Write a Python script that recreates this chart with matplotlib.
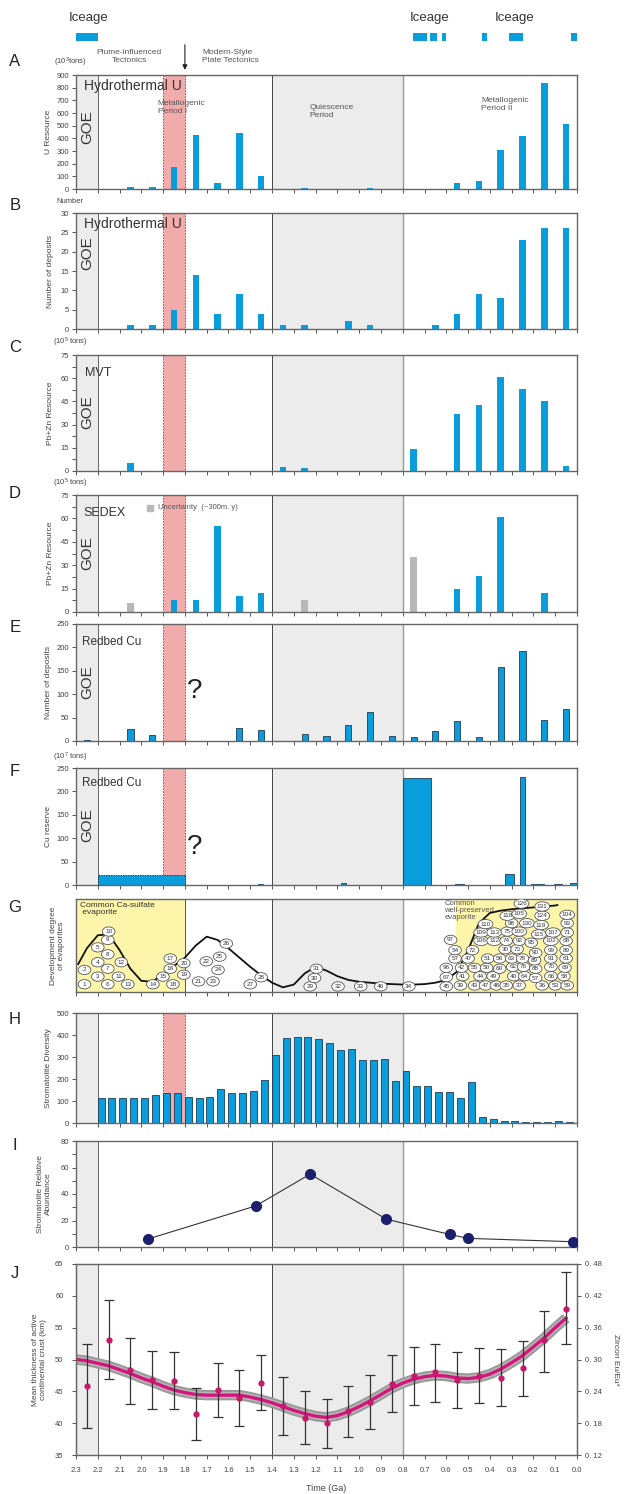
import numpy as np
import matplotlib.pyplot as plt
from matplotlib.patches import Ellipse

plt.rcParams['font.family'] = ['Liberation Sans', 'DejaVu Sans']
plt.rcParams['mathtext.default'] = 'regular'

# ---------------- data ----------------
ice_start = [2.3, 0.755, 0.674, 0.622, 0.437, 0.31, 0.028]
ice_end = [2.2, 0.69, 0.643, 0.60, 0.415, 0.248, 0.0]
ice_label_x = [2.24, 0.675, 0.285]

# A: hydrothermal U resource (10^3 t)
a_age = [2.05, 1.95, 1.85, 1.75, 1.65, 1.55, 1.45, 1.25, 0.95, 0.55, 0.45, 0.35, 0.25, 0.15, 0.05]
a_val = [12, 12, 175, 425, 50, 440, 100, 10, 10, 50, 60, 310, 420, 840, 515]

# B: hydrothermal U number of deposits
b_age = [2.05, 1.95, 1.85, 1.75, 1.65, 1.55, 1.45, 1.35, 1.25, 1.05, 0.95, 0.65, 0.55, 0.45, 0.35, 0.25, 0.15, 0.05]
b_val = [1, 1, 5, 14, 4, 9, 4, 1, 1, 2, 1, 1, 4, 9, 8, 23, 26, 26]

# C: MVT Pb+Zn
c_age = [2.05, 1.35, 1.25, 0.75, 0.55, 0.45, 0.35, 0.25, 0.15, 0.05]
c_val = [5, 2.5, 2, 14, 37, 42.5, 61, 53, 45, 3]

# D: SEDEX Pb+Zn (blue = dated, grey = uncertain)
d_age = [1.85, 1.75, 1.65, 1.55, 1.45, 0.55, 0.45, 0.35, 0.15]
d_val = [8, 8, 55, 10.5, 12.5, 15, 23, 61, 12.5]
d_unc_age = [2.05, 1.25, 0.75]
d_unc_val = [5.5, 8, 35.5]

# E: redbed Cu number of deposits
e_age = [2.25, 2.05, 1.95, 1.85, 1.55, 1.45, 1.25, 1.15, 1.05, 0.95, 0.85, 0.75, 0.65, 0.55, 0.45, 0.35, 0.25, 0.15, 0.05]
e_val = [3, 26, 12, 1, 27, 24, 16, 11, 35, 62, 11, 9, 21, 42, 9, 159, 192, 44, 69]

# F: redbed Cu reserve (10^7 t)
f_start = [2.2, 1.465, 1.085, 0.8, 0.56, 0.33, 0.26, 0.21, 0.105, 0.032]
f_end = [1.8, 1.44, 1.06, 0.67, 0.52, 0.29, 0.24, 0.15, 0.07, 0.0]
f_val = [22, 2, 4, 228, 2, 23, 230, 2, 2, 5]

# G: evaporite development curve and numbered occurrences
g_curve_age = [2.29, 2.25, 2.2, 2.15, 2.1, 2.05, 2.0, 1.95, 1.9, 1.85, 1.8, 1.75, 1.7, 1.65, 1.6, 1.55,
               1.5, 1.45, 1.4, 1.35, 1.3, 1.25, 1.2, 1.15, 1.1, 1.05, 1.0, 0.95, 0.9, 0.85, 0.8, 0.75,
               0.7, 0.65, 0.6, 0.55, 0.5, 0.45, 0.4, 0.35, 0.3, 0.25, 0.2, 0.15, 0.1, 0.09]
g_curve_lvl = [0.30, 0.47, 0.61, 0.62, 0.45, 0.25, 0.12, 0.11, 0.19, 0.28, 0.37, 0.50, 0.595, 0.56, 0.47, 0.37,
               0.27, 0.18, 0.10, 0.05, 0.08, 0.20, 0.27, 0.23, 0.17, 0.13, 0.11, 0.10, 0.09, 0.085, 0.08, 0.08,
               0.085, 0.10, 0.13, 0.22, 0.45, 0.74, 0.85, 0.875, 0.89, 0.90, 0.91, 0.92, 0.93, 0.935]
g_num = ['1', '2', '3', '4', '5', '6', '7', '8', '9', '10', '11', '12', '13', '14', '15', '16', '17', '18',
         '19', '20', '21', '22', '23', '24', '25', '26', '27', '28', '29', '30', '31', '32', '33', '46',
         '34', '45', '67', '96',
         '39', '43', '47', '48', '35', '37', '36', '53', '59',
         '41', '44', '49', '40', '64', '57', '66', '58',
         '42', '55', '50', '60', '62', '76', '88', '70', '69',
         '57', '47', '51', '56', '63', '78', '89', '91', '61',
         '54', '72', '30', '73', '90', '99', '89',
         '97', '106', '112', '74', '92', '95', '102', '68',
         '109', '113', '75', '100', '115', '107', '71',
         '110', '98', '130', '119', '93',
         '118', '105', '124', '104',
         '131', '126']
g_age = [2.261, 2.261, 2.20, 2.20, 2.20, 2.154, 2.154, 2.154, 2.154, 2.150, 2.105, 2.092, 2.062, 1.947, 1.901, 1.867, 1.867, 1.855,
         1.805, 1.805, 1.737, 1.702, 1.671, 1.648, 1.64, 1.61, 1.50, 1.45, 1.225, 1.205, 1.196, 1.097, 0.993, 0.901,
         0.772, 0.60, 0.60, 0.60,
         0.535, 0.47, 0.42, 0.37, 0.325, 0.265, 0.16, 0.10, 0.045,
         0.525, 0.445, 0.385, 0.29, 0.24, 0.19, 0.12, 0.06,
         0.53, 0.47, 0.415, 0.355, 0.295, 0.245, 0.19, 0.12, 0.055,
         0.56, 0.50, 0.41, 0.355, 0.30, 0.25, 0.195, 0.12, 0.05,
         0.56, 0.48, 0.33, 0.275, 0.19, 0.12, 0.05,
         0.58, 0.44, 0.38, 0.325, 0.265, 0.21, 0.12, 0.05,
         0.44, 0.38, 0.32, 0.265, 0.175, 0.11, 0.045,
         0.42, 0.30, 0.23, 0.165, 0.045,
         0.32, 0.265, 0.16, 0.045,
         0.16, 0.255]
g_lvl = [0.083, 0.237, 0.165, 0.32, 0.48, 0.083, 0.25, 0.405, 0.56, 0.65, 0.165, 0.32, 0.083, 0.083, 0.165, 0.25, 0.36, 0.083,
         0.186, 0.31, 0.114, 0.33, 0.114, 0.237, 0.38, 0.52, 0.083, 0.158, 0.06, 0.15, 0.25, 0.06, 0.06, 0.06,
         0.06, 0.06, 0.16, 0.26,
         0.07, 0.07, 0.07, 0.07, 0.07, 0.07, 0.07, 0.07, 0.07,
         0.17, 0.17, 0.17, 0.17, 0.17, 0.15, 0.17, 0.17,
         0.26, 0.26, 0.26, 0.25, 0.27, 0.27, 0.25, 0.27, 0.26,
         0.36, 0.36, 0.36, 0.36, 0.36, 0.36, 0.34, 0.36, 0.36,
         0.45, 0.45, 0.46, 0.46, 0.42, 0.45, 0.45,
         0.56, 0.55, 0.55, 0.55, 0.55, 0.53, 0.55, 0.55,
         0.64, 0.64, 0.65, 0.65, 0.62, 0.64, 0.64,
         0.73, 0.74, 0.74, 0.72, 0.74,
         0.82, 0.84, 0.82, 0.83,
         0.92, 0.95]

# H: stromatolite diversity, 50 Myr bins from 2.2 Ga
h_age = [2.185 - 0.05 * k for k in range(44)]
h_val = [112, 112, 112, 112, 114, 127, 135, 137, 118, 114, 120, 153, 135, 135, 145, 195,
         310, 385, 390, 390, 383, 365, 330, 335, 288, 288, 293, 190, 235, 166, 168, 141,
         141, 115, 188, 27, 17, 10, 8, 5, 5, 5, 10, 5]

# I: stromatolite relative abundance
i_age = [1.97, 1.475, 1.225, 0.875, 0.585, 0.50, 0.02]
i_val = [6, 31, 55, 21, 9.5, 6.5, 4]

# J: mean crustal thickness
j_age = [2.25, 2.15, 2.05, 1.95, 1.85, 1.75, 1.65, 1.55, 1.45, 1.35, 1.25, 1.15,
         1.05, 0.95, 0.85, 0.75, 0.65, 0.55, 0.45, 0.35, 0.25, 0.15, 0.05]
j_val = [45.8, 53.1, 48.3, 46.8, 46.7, 41.4, 45.2, 44.0, 46.3, 42.7, 40.8, 40.0,
         41.9, 43.4, 46.2, 47.4, 48.0, 46.8, 47.4, 47.1, 48.6, 53.0, 58.0]
j_lo = [39.2, 47.0, 43.0, 42.3, 42.3, 37.4, 41.0, 39.6, 42.0, 38.1, 36.7, 36.1,
        37.9, 39.1, 41.7, 42.9, 43.4, 42.4, 43.1, 42.7, 44.2, 48.1, 52.4]
j_hi = [52.4, 59.3, 53.4, 51.3, 51.1, 45.5, 49.5, 48.3, 50.7, 47.2, 45.0, 43.8,
        45.9, 47.6, 50.7, 52.0, 52.5, 51.1, 51.8, 51.6, 52.9, 57.6, 63.7]
j_curve_age = [2.3, 2.25, 2.2, 2.15, 2.1, 2.05, 2.0, 1.95, 1.9, 1.85, 1.8, 1.75, 1.7, 1.65, 1.6, 1.55,
               1.5, 1.45, 1.4, 1.35, 1.3, 1.25, 1.2, 1.15, 1.1, 1.05, 1.0, 0.95, 0.9, 0.85, 0.8, 0.75,
               0.7, 0.65, 0.6, 0.55, 0.5, 0.45, 0.4, 0.35, 0.3, 0.25, 0.2, 0.15, 0.1, 0.05]
j_curve = [50.0, 49.8, 49.4, 49.0, 48.4, 47.8, 47.1, 46.5, 45.8, 45.2, 44.8, 44.5, 44.4, 44.4, 44.4, 44.4,
           44.1, 43.7, 43.2, 42.6, 42.0, 41.5, 41.1, 40.9, 41.2, 41.8, 42.6, 43.5, 44.5, 45.5, 46.3, 46.9,
           47.3, 47.5, 47.4, 47.1, 47.0, 47.2, 47.7, 48.5, 49.5, 50.6, 52.0, 53.4, 55.0, 56.5]

# ---------------- style ----------------
BLUE = '#0a9ddb'
GRAY = '#ececec'
PINK = '#f2abab'
YELLOW = '#fdf5aa'
TXT = '#444444'
W, H = 631, 1494


def rect(top, bot, left=76, right=577):
    return [left / W, 1 - bot / H, (right - left) / W, (bot - top) / H]


def base(ax, goe=True, pink=True, quiet=True):
    ax.set_xlim(2.3, 0.0)
    if goe:
        ax.axvspan(2.3, 2.2, color=GRAY, lw=0, zorder=0)
        ax.axvline(2.2, color='#666666', lw=0.7, zorder=0.5)
    if quiet:
        ax.axvspan(1.4, 0.8, color=GRAY, lw=0, zorder=0)
        ax.axvline(1.4, color='#444444', lw=0.7, zorder=0.5)
        ax.axvline(0.8, color='#999999', lw=1.0, zorder=0.5)
    if pink:
        ax.axvspan(1.9, 1.8, fc=PINK, ec='#555555', ls=(0, (2, 1.5)), lw=0.6, zorder=0.2)
    ax.set_xticks(np.round(np.arange(0, 2.31, 0.1), 1))
    ax.tick_params(labelbottom=False)
    for s in ax.spines.values():
        s.set_color('#666666')
        s.set_linewidth(1.0)
    ax.tick_params(direction='out', length=3, width=0.7, colors='#555555',
                   labelsize=5.5, labelcolor=TXT, pad=2)


def letter(fig, s, py):
    fig.text(15 / W, 1 - py / H, s, fontsize=12, ha='center', va='center', color='#222222')


def goe(ax, yf):
    ax.text(2.25, yf, 'GOE', transform=ax.get_xaxis_transform(), rotation=90,
            fontsize=11, ha='center', va='center', color='#333333')


def units(ax, s, yf):
    ax.text(-0.012, yf, s, transform=ax.transAxes, fontsize=5.5, ha='center',
            va='center', color=TXT)


fig = plt.figure(figsize=(W / 100, H / 100), dpi=100)

# ---- ice ages ----
axi = fig.add_axes(rect(33, 41))
axi.set_xlim(2.3, 0.0)
axi.set_ylim(0, 1)
axi.bar(ice_start, [1] * len(ice_start), width=np.array(ice_end) - np.array(ice_start),
        align='edge', color=BLUE)
for x in ice_label_x:
    axi.text(x, 2.9, 'Iceage', fontsize=9.5, ha='center', va='center', color='#333333', clip_on=False)
axi.axis('off')

# ---- A ----
ax = fig.add_axes(rect(75, 189))
base(ax)
ax.bar(a_age, a_val, width=0.03, color=BLUE, zorder=2)
ax.set_ylim(0, 900)
ax.set_yticks(range(0, 901, 100))
ax.set_ylabel('U Resource', fontsize=6, color=TXT, labelpad=3)
ax.text(2.265, 813, 'Hydrothermal U', fontsize=10, va='center', color='#333333')
ax.text(1.925, 640, 'Metallogenic\nPeriod I', fontsize=6, va='center', color='#555555', linespacing=1.2)
ax.text(1.227, 612, 'Quiescence\nPeriod', fontsize=6, va='center', color='#555555', linespacing=1.2)
ax.text(0.44, 667, 'Metallogenic\nPeriod II', fontsize=6, va='center', color='#555555', linespacing=1.2)
units(ax, '(10$^3$tons)', 1.114)
ax.text(0.106, 1.158, 'Plume-influenced\nTectonics', transform=ax.transAxes, fontsize=6,
        ha='center', va='center', color='#555555')
ax.text(0.252, 1.158, 'Modern-Style\nPlate Tectonics', transform=ax.transAxes, fontsize=6,
        ha='left', va='center', color='#555555')
ax.annotate('', xy=(1.8, 1.02), xytext=(1.8, 1.29), xycoords=ax.get_xaxis_transform(),
            arrowprops=dict(arrowstyle='-|>', color='#222222', lw=0.8, mutation_scale=7))
goe(ax, 0.54)
letter(fig, 'A', 62)

# ---- B ----
ax = fig.add_axes(rect(213, 329))
base(ax)
ax.bar(b_age, b_val, width=0.03, color=BLUE, zorder=2)
ax.set_ylim(0, 30)
ax.set_yticks(range(0, 31, 5))
ax.set_ylabel('Number of deposits', fontsize=6, color=TXT, labelpad=5)
ax.text(2.265, 27.1, 'Hydrothermal U', fontsize=10, va='center', color='#333333')
units(ax, 'Number', 1.095)
goe(ax, 0.65)
letter(fig, 'B', 205)

# ---- C ----
ax = fig.add_axes(rect(355, 471))
base(ax)
ax.bar(c_age, c_val, width=0.03, color=BLUE, zorder=2)
ax.set_ylim(0, 75)
ax.set_yticks(range(0, 76, 15))
ax.set_yticks(np.arange(7.5, 75, 15), minor=True)
ax.tick_params(which='minor', direction='out', length=3, width=0.7, colors='#555555')
ax.set_ylabel('Pb+Zn Resource', fontsize=6, color=TXT, labelpad=5)
ax.text(2.26, 63.6, 'MVT', fontsize=9, va='center', color='#333333')
units(ax, '(10$^5$ tons)', 1.11)
goe(ax, 0.51)
letter(fig, 'C', 348)

# ---- D ----
ax = fig.add_axes(rect(495, 612))
base(ax)
ax.bar(d_age, d_val, width=0.03, color=BLUE, zorder=2)
ax.bar(d_unc_age, d_unc_val, width=0.03, color='#b8b8b8', zorder=2)
ax.set_ylim(0, 75)
ax.set_yticks(range(0, 76, 15))
ax.set_yticks(np.arange(7.5, 75, 15), minor=True)
ax.tick_params(which='minor', direction='out', length=3, width=0.7, colors='#555555')
ax.set_ylabel('Pb+Zn Resource', fontsize=6, color=TXT, labelpad=5)
ax.text(2.265, 63.3, 'SEDEX', fontsize=9, va='center', color='#333333')
ax.scatter([1.96], [66.7], marker='s', s=14, color='#b8b8b8', zorder=3)
ax.text(1.925, 66.7, 'Uncertainty  (~300m. y)', fontsize=5.5, va='center', color='#555555')
units(ax, '(10$^5$ tons)', 1.10)
goe(ax, 0.5)
letter(fig, 'D', 493)

# ---- E ----
ax = fig.add_axes(rect(624, 741))
base(ax)
ax.bar(e_age, e_val, width=0.028, color=BLUE, edgecolor='#1d3c58', lw=0.6, zorder=2)
ax.set_ylim(0, 250)
ax.set_yticks(range(0, 251, 50))
ax.set_ylabel('Number of deposits', fontsize=6, color=TXT, labelpad=3)
ax.text(2.272, 212, 'Redbed Cu', fontsize=8.5, va='center', color='#333333')
ax.text(1.755, 107, '?', fontsize=20, ha='center', va='center', color='#222222')
goe(ax, 0.5)
letter(fig, 'E', 628)

# ---- F ----
ax = fig.add_axes(rect(768, 885))
base(ax)
fw = np.array(f_end) - np.array(f_start)
ax.bar(f_start[:1], f_val[:1], width=fw[:1], align='edge', color=BLUE, edgecolor='#1d3c58',
       lw=0.7, ls=(0, (1.5, 1)), zorder=2)
ax.bar(f_start[1:], f_val[1:], width=fw[1:], align='edge', color=BLUE, edgecolor='#1d3c58',
       lw=0.6, zorder=2)
ax.set_ylim(0, 250)
ax.set_yticks(range(0, 251, 50))
ax.set_ylabel('Cu reserve', fontsize=6, color=TXT, labelpad=3)
ax.text(2.272, 219, 'Redbed Cu', fontsize=8.5, va='center', color='#333333')
ax.text(1.755, 82, '?', fontsize=20, ha='center', va='center', color='#222222')
units(ax, '(10$^7$ tons)', 1.09)
goe(ax, 0.51)
letter(fig, 'F', 772)

# ---- G ----
ax = fig.add_axes(rect(899, 992))
base(ax, goe=False, pink=False)
ax.axvspan(2.3, 1.8, color=YELLOW, lw=0, zorder=0.1)
ax.axvline(1.8, color='#555555', lw=0.7, zorder=0.5)
ax.axvspan(0.555, 0.0, color=YELLOW, lw=0, zorder=0.1)
ax.set_ylim(0, 1)
ax.set_yticks([])
ax.plot(g_curve_age, g_curve_lvl, color='#111111', lw=1.3, zorder=3)
for n, x, y in zip(g_num, g_age, g_lvl):
    ew = 0.058 if len(n) < 3 else 0.068
    ax.add_patch(Ellipse((x, y), ew, 0.10, fc='white', ec='#555555', lw=0.6, zorder=4))
    ax.text(x, y, n, fontsize=4.6, ha='center', va='center', color='#333333', zorder=5)
ax.text(2.28, 0.97, 'Common Ca-sulfate\n evaporite', fontsize=6, va='top', color='#333333', linespacing=1.1)
ax.text(0.61, 0.99, 'Common\nwell-preserved\nevaporite', fontsize=5.5, va='top', color='#555555',
        linespacing=1.05, zorder=6)
ax.set_ylabel('Development degree\nof evaporites', fontsize=6, color=TXT, labelpad=8)
letter(fig, 'G', 907)

# ---- H ----
ax = fig.add_axes(rect(1013, 1123))
base(ax)
ax.bar(h_age, h_val, width=0.032, color=BLUE, edgecolor='#1d3c58', lw=0.6, zorder=2)
ax.set_ylim(0, 500)
ax.set_yticks(range(0, 501, 100))
ax.set_ylabel('Stromatolite Diversity', fontsize=6, color=TXT, labelpad=3)
letter(fig, 'H', 1020)

# ---- I ----
ax = fig.add_axes(rect(1141, 1247))
base(ax, pink=False)
ax.plot(i_age, i_val, color='#333333', lw=0.8, marker='o', ms=7, mfc='#1c1f6b', mec='#1c1f6b', zorder=3)
ax.set_ylim(0, 80)
ax.set_yticks(range(0, 81, 20))
ax.set_yticks(range(10, 80, 20), minor=True)
ax.tick_params(which='minor', direction='out', length=3, width=0.7, colors='#555555')
ax.set_ylabel('Stromatolite Relative\nAbundance', fontsize=6, color=TXT, labelpad=6)
letter(fig, 'I', 1146)

# ---- J ----
ax = fig.add_axes(rect(1264, 1455))
base(ax, pink=False)
ax.plot(j_curve_age, j_curve, color='#9a9a9a', lw=7.5, solid_capstyle='butt', zorder=2)
ax.plot(j_curve_age, j_curve, color='#b8b8b8', lw=4.5, solid_capstyle='butt', zorder=2)
ax.plot(j_curve_age, j_curve, color='#d4157c', lw=2.4, zorder=3)
yerr = [np.array(j_val) - np.array(j_lo), np.array(j_hi) - np.array(j_val)]
ax.errorbar(j_age, j_val, yerr=yerr, fmt='o', ms=3.5, mfc='#c8186a', mec='#c8186a',
            ecolor='#333333', elinewidth=0.9, capsize=3.5, capthick=0.9, zorder=4)
ax.set_ylim(35, 65)
ax.set_yticks(range(35, 66, 5))
ax.tick_params(labelbottom=True, pad=6)
ax.set_xticklabels(['%.1f' % v for v in np.round(np.arange(0, 2.31, 0.1), 1)])
ax.set_xlabel('Time (Ga)', fontsize=6.5, color=TXT, labelpad=7)
ax.set_ylabel('Mean thickness of active\ncontinental crust (km)', fontsize=6, color=TXT, labelpad=6)
ax2 = ax.twinx()
ax2.set_ylim(0.12, 0.48)
zt = np.round(np.arange(0.12, 0.481, 0.06), 2)
ax2.set_yticks(zt)
ax2.set_yticklabels(['0. %02d' % round(v * 100) for v in zt])
ax2.tick_params(direction='out', length=3, width=0.7, colors='#555555', labelsize=5.5, labelcolor=TXT, pad=3)
for s in ax2.spines.values():
    s.set_color('#666666')
ax2.set_ylabel('Zircon Eu/Eu*', fontsize=6, color=TXT, rotation=270, labelpad=12)
letter(fig, 'J', 1274)

fig.savefig('out.png', dpi=100)
